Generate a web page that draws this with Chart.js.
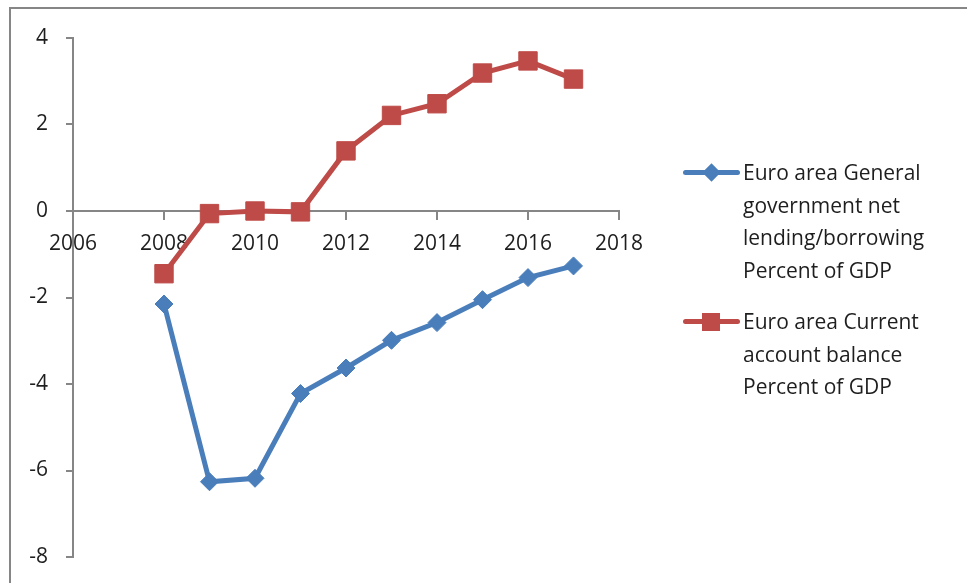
<!DOCTYPE html>
<html>
<head>
<meta charset="utf-8">
<script src="https://cdn.jsdelivr.net/npm/chart.js@4.4.0/dist/chart.umd.min.js"></script>
<style>
  html, body { margin: 0; padding: 0; background: #fff; }
  #wrap { position: relative; width: 967px; height: 583px; overflow: hidden; }
  #legend { position: absolute; left: 683px; top: 156px; font-family: "Open Sans", sans-serif; font-size: 21px; color: #1e1e1e; }
  .item { position: relative; padding-left: 60px; line-height: 32.5px; margin-bottom: 19px; }
  .icon { position: absolute; left: 0; top: 14px; width: 57px; height: 5px; border-radius: 3px; }
  .mark { position: absolute; }
</style>
</head>
<body>
<div id="wrap">
  <canvas id="chart" width="967" height="583"></canvas>
  <div id="legend"></div>
</div>
<script>
// values
const years = [2008, 2009, 2010, 2011, 2012, 2013, 2014, 2015, 2016, 2017];
const govLending = [-2.15, -6.26, -6.18, -4.22, -3.63, -2.99, -2.58, -2.05, -1.54, -1.27];
const currentAccount = [-1.45, -0.06, 0.0, -0.02, 1.39, 2.21, 2.48, 3.19, 3.47, 3.05];
const govName = ["Euro area General", "government net", "lending/borrowing", "Percent of GDP"];
const caName = ["Euro area Current", "account balance", "Percent of GDP"];
const xTicks = [2006, 2008, 2010, 2012, 2014, 2016, 2018];
const yTicks = [-8, -6, -4, -2, 0, 2, 4];

const blue = "#4a7ebb";
const red = "#be4b48";
const axisGrey = "#868686";
const font = { family: "'Open Sans', sans-serif", size: 21 };

function pairs(vals) {
  return years.map((yr, i) => ({ x: yr, y: vals[i] }));
}

// outer frame like the spreadsheet chart box
const framePlugin = {
  id: "frame",
  beforeDraw(chart) {
    const ctx = chart.ctx;
    ctx.save();
    ctx.strokeStyle = axisGrey;
    ctx.lineWidth = 2;
    ctx.strokeRect(10, 8, 1000, 700);
    ctx.restore();
  }
};

const chart = new Chart(document.getElementById("chart"), {
  type: "line",
  data: {
    datasets: [{
      label: govName.join(" "),
      lines: govName,
      data: pairs(govLending),
      borderColor: blue,
      backgroundColor: blue,
      borderWidth: 5,
      pointStyle: "rectRot",
      pointRadius: 9,
      pointBorderWidth: 1,
      tension: 0
    }, {
      label: caName.join(" "),
      lines: caName,
      data: pairs(currentAccount),
      borderColor: red,
      backgroundColor: red,
      borderWidth: 5,
      pointStyle: "rect",
      pointRadius: 13,
      pointBorderWidth: 1,
      tension: 0
    }]
  },
  options: {
    responsive: false,
    animation: false,
    layout: { padding: { left: 0, top: 38, right: 348, bottom: 26 } },
    plugins: {
      legend: { display: false },
      tooltip: { enabled: false }
    },
    scales: {
      x: {
        type: "linear",
        position: { y: 0 },
        min: 2006,
        max: 2018,
        afterBuildTicks(scale) { scale.ticks = xTicks.map(v => ({ value: v })); },
        // axis sits on y = 0, so it should not take room at the bottom
        afterFit(scale) { scale.height = 0; },
        ticks: {
          font: font,
          color: "#1e1e1e",
          padding: 12,
          maxRotation: 0,
          callback: v => String(v)
        },
        grid: { drawOnChartArea: false, tickLength: 8, color: axisGrey, lineWidth: 2 },
        border: { color: axisGrey, width: 2 }
      },
      y: {
        min: -8,
        max: 4,
        afterBuildTicks(scale) { scale.ticks = yTicks.map(v => ({ value: v })); },
        afterFit(scale) {
          scale.width = 73;
          // tick padding is horizontal only here, keep it out of the vertical layout
          scale.paddingTop = 12;
          scale.paddingBottom = 12;
        },
        ticks: { font: font, color: "#1e1e1e", padding: 18 },
        grid: { drawOnChartArea: false, tickLength: 7, color: axisGrey, lineWidth: 2 },
        border: { color: axisGrey, width: 2 }
      }
    }
  },
  plugins: [framePlugin]
});

// html legend built from the datasets
const legend = document.getElementById("legend");
chart.data.datasets.forEach(ds => {
  const item = document.createElement("div");
  item.className = "item";
  const icon = document.createElement("div");
  icon.className = "icon";
  icon.style.background = ds.borderColor;
  const mark = document.createElement("div");
  mark.className = "mark";
  mark.style.background = ds.borderColor;
  if (ds.pointStyle === "rectRot") {
    mark.style.width = "13px"; mark.style.height = "13px";
    mark.style.left = "22px"; mark.style.top = "-4px";
    mark.style.transform = "rotate(45deg)";
  } else {
    mark.style.width = "18px"; mark.style.height = "18px";
    mark.style.left = "19px"; mark.style.top = "-6.5px";
  }
  icon.appendChild(mark);
  item.appendChild(icon);
  ds.lines.forEach(t => {
    const line = document.createElement("div");
    line.textContent = t;
    item.appendChild(line);
  });
  legend.appendChild(item);
});
</script>
</body>
</html>
